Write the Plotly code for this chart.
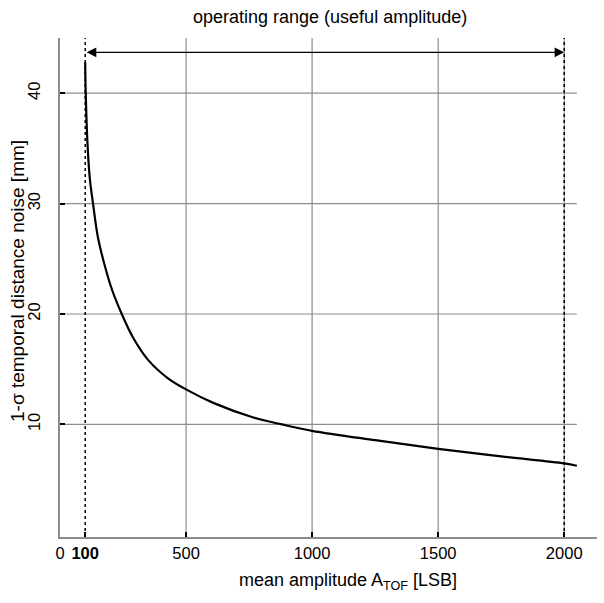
import plotly.graph_objects as go

# Data
amplitude = [100, 102, 110, 119, 131, 150, 175, 207, 245, 289, 351, 427, 500,
             608, 767, 880, 1000, 1250, 1500, 1750, 2000, 2050]
noise_mm = [42.8, 40.0, 35.0, 32.1, 30.0, 27.0, 24.6, 22.15, 20.0, 17.9, 15.8, 14.2, 13.17,
            11.95, 10.63, 10.0, 9.42, 8.57, 7.79, 7.1, 6.47, 6.25]

x_tick_vals = [0, 100, 500, 1000, 1500, 2000]
x_tick_text = ["0", "<b>100</b>", "500", "1000", "1500", "2000"]
y_tick_vals = [10, 20, 30, 40]
y_tick_text = ["10", "20", "30", "40"]
v_grid = [500, 1000, 1500, 2000]
h_grid = [10, 20, 30, 40]
range_limits = [100, 2000]
grid_end = 2050
arrow_y = 43.7

FONT = "Liberation Sans, Arial, sans-serif"
GRID = "#8c8c8c"

fig = go.Figure()
fig.add_trace(go.Scatter(
    x=amplitude, y=noise_mm, mode="lines",
    line=dict(color="black", width=2.2, shape="spline", smoothing=1.0),
    showlegend=False, hoverinfo="skip",
))

shapes = []
for xv in v_grid:
    shapes.append(dict(type="line", xref="x", yref="paper", x0=xv, x1=xv, y0=0, y1=1,
                       line=dict(color=GRID, width=1.2), layer="below"))
for yv in h_grid:
    shapes.append(dict(type="line", xref="x", yref="y", x0=0, x1=grid_end, y0=yv, y1=yv,
                       line=dict(color=GRID, width=1.2), layer="below"))
for xv in range_limits:
    shapes.append(dict(type="line", xref="x", yref="paper", x0=xv, x1=xv, y0=0, y1=1,
                       line=dict(color="black", width=1.5, dash="dot"), layer="above"))

annotations = [
    dict(x=range_limits[1], y=arrow_y, ax=range_limits[0], ay=arrow_y,
         xref="x", yref="y", axref="x", ayref="y", text="", showarrow=True,
         arrowhead=2, startarrowhead=2, arrowside="end+start", arrowsize=1.6,
         startarrowsize=1.6, arrowwidth=1.2, arrowcolor="black", standoff=0, startstandoff=0),
    dict(x=(329.5 - 60) / 537, y=1.042, xref="paper", yref="paper",
         text="operating range (useful amplitude)",
         showarrow=False, xanchor="center", yanchor="middle",
         font=dict(family=FONT, size=18, color="black")),
    dict(x=(348 - 60) / 537, y=-0.09, xref="paper", yref="paper",
         text="mean amplitude A<sub>TOF</sub> [LSB]",
         showarrow=False, xanchor="center", yanchor="middle",
         font=dict(family=FONT, size=18, color="black")),
    dict(x=(17 - 60) / 537, y=(537 - 281) / 499, xref="paper", yref="paper",
         text="1-σ temporal distance noise [mm]", textangle=-90,
         showarrow=False, xanchor="center", yanchor="middle",
         font=dict(family=FONT, size=19, color="black")),
]

fig.update_layout(
    width=604, height=603,
    margin=dict(l=60, r=7, t=38, b=66),
    paper_bgcolor="white", plot_bgcolor="white",
    font=dict(family=FONT, size=16, color="black"),
    shapes=shapes, annotations=annotations,
    xaxis=dict(
        range=[0, 2130], showgrid=False, zeroline=False, automargin=False,
        showline=True, linecolor=GRID, linewidth=1.5,
        ticks="inside", ticklen=5, tickwidth=2, tickcolor="black",
        tickmode="array", tickvals=x_tick_vals, ticktext=x_tick_text,
        tickfont=dict(family=FONT, size=16.5, color="black"),
    ),
    yaxis=dict(
        range=[-0.2, 45], showgrid=False, zeroline=False, automargin=False,
        showline=True, linecolor=GRID, linewidth=1.5,
        ticks="inside", ticklen=5, tickwidth=2, tickcolor="black",
        tickmode="array", tickvals=y_tick_vals, ticktext=y_tick_text, tickangle=-90,
        ticklabelstandoff=12,
        tickfont=dict(family=FONT, size=16.5, color="black"),
    ),
)

fig.write_html("out.html", config={"displayModeBar": False},
               post_script="document.body.style.margin='0';document.body.style.overflow='hidden';")
